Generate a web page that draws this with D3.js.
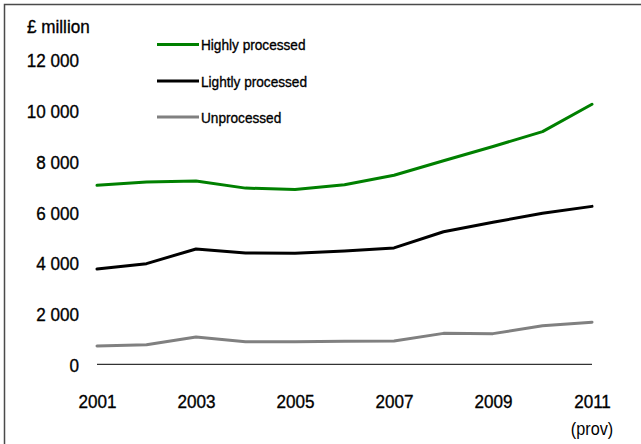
<!DOCTYPE html>
<html>
<head>
<meta charset="utf-8">
<script src="https://cdn.jsdelivr.net/npm/d3@7"></script>
<style>
  html, body { margin: 0; padding: 0; background: #fff; }
  svg { display: block; }
  text { font-family: "Liberation Sans", Arial, sans-serif; fill: #000; }
</style>
</head>
<body>
<svg id="chart" width="641" height="444"></svg>
<script>
// Food spending by degree of processing, £ million
const years = [2001, 2002, 2003, 2004, 2005, 2006, 2007, 2008, 2009, 2010, 2011];
const highlyProcessed = [7060, 7190, 7230, 6950, 6900, 7080, 7460, 8030, 8590, 9180, 10260];
const lightlyProcessed = [3760, 3970, 4550, 4390, 4380, 4470, 4590, 5230, 5600, 5960, 6230];
const unprocessed = [720, 770, 1080, 890, 890, 910, 920, 1220, 1210, 1520, 1660];

const seriesNames = ["Highly processed", "Lightly processed", "Unprocessed"];
const seriesColors = ["#008000", "#000000", "#808080"];
const yTicks = [0, 2000, 4000, 6000, 8000, 10000, 12000];
const xTickYears = [2001, 2003, 2005, 2007, 2009, 2011];
const yUnit = "£ million";
const provisionalNote = "(prov)";

const series = [highlyProcessed, lightlyProcessed, unprocessed];

// condensed, slightly heavy text look
const SQUEEZE = 0.9;
function condensed(sel, size) {
  return sel
    .attr("font-family", "Liberation Sans, Arial, sans-serif")
    .attr("font-size", size)
    .attr("fill", "#000")
    .attr("stroke", "#000")
    .attr("stroke-width", 0.35);
}

const svg = d3.select("#chart");

// outer frame
svg.append("rect")
  .attr("x", 4.5).attr("y", 4.5)
  .attr("width", 700).attr("height", 500)
  .attr("fill", "none").attr("stroke", "#4a4a4a").attr("stroke-width", 1.5);

const x = d3.scaleLinear().domain([2001, 2011]).range([97, 592]);
const y = d3.scaleLinear().domain([0, 12000]).range([364.3, 60.1]);

const fmt = v => d3.format(",")(v).replace(/,/g, " ");

// y-axis labels (no axis line)
const yAxis = d3.axisLeft(y).tickValues(yTicks).tickSize(0).tickPadding(0).tickFormat(fmt);
const yg = svg.append("g").attr("transform", "translate(79,0)").call(yAxis);
yg.select(".domain").remove();
condensed(yg.selectAll("text"), 19)
  .attr("dy", "0.36em")
  .attr("transform", `scale(${SQUEEZE},1)`);

// unit label
condensed(svg.append("text"), 19)
  .attr("transform", `translate(27,33) scale(${SQUEEZE},1)`)
  .text(yUnit);

// zero baseline
svg.append("line")
  .attr("x1", x(2001)).attr("x2", x(2011))
  .attr("y1", y(0)).attr("y2", y(0))
  .attr("stroke", "#000").attr("stroke-width", 1);

// x-axis labels
const xAxis = d3.axisBottom(x).tickValues(xTickYears).tickSize(0).tickPadding(0).tickFormat(d3.format("d"));
const xg = svg.append("g").attr("transform", "translate(0,394.5)").call(xAxis);
xg.select(".domain").remove();
condensed(xg.selectAll("text"), 19)
  .attr("transform", `scale(${SQUEEZE},1)`);

svg.append("text")
  .attr("transform", `translate(${x(2011)},434.5) scale(${SQUEEZE},1)`)
  .attr("text-anchor", "middle")
  .attr("font-size", 18)
  .attr("fill", "#222")
  .text(provisionalNote);

// series lines
const line = d3.line()
  .x((d, i) => x(years[i]))
  .y(d => y(d));

series.forEach((vals, i) => {
  svg.append("path")
    .datum(vals)
    .attr("d", line)
    .attr("fill", "none")
    .attr("stroke", seriesColors[i])
    .attr("stroke-width", 3)
    .attr("stroke-linejoin", "round")
    .attr("stroke-linecap", "round");
});

// legend
const legendY = [44.5, 81, 117];
seriesNames.forEach((name, i) => {
  svg.append("line")
    .attr("x1", 157).attr("x2", 199)
    .attr("y1", legendY[i]).attr("y2", legendY[i])
    .attr("stroke", seriesColors[i]).attr("stroke-width", 3);
  condensed(svg.append("text"), 15.5)
    .attr("stroke-width", 0.35)
    .attr("transform", `translate(201,${legendY[i] + 5.5}) scale(0.88,1)`)
    .text(name);
});
</script>
</body>
</html>
